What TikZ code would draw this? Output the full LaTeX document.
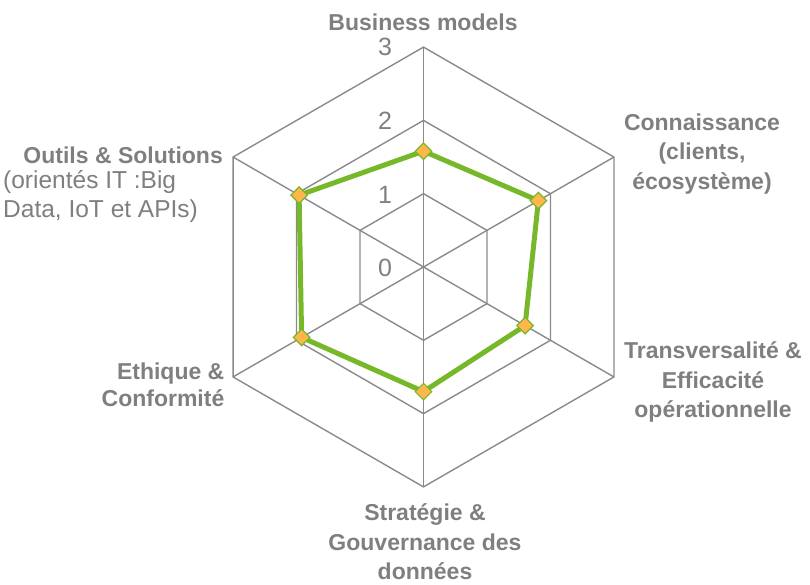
\documentclass[tikz,border=0pt]{standalone}
\usepackage{fontspec}
\setmainfont{Liberation Sans}
\usetikzlibrary{shapes.geometric}
\definecolor{txt}{HTML}{7F7F7F}
\definecolor{gridc}{HTML}{8A8A8A}
\definecolor{serie}{HTML}{77B82A}
\definecolor{mk}{HTML}{FFB64A}
\tikzset{
  gridline/.style={draw=gridc, line width=1.4pt},
  serieline/.style={draw=serie, line width=5pt, line join=round},
  mkstyle/.style={diamond, fill=mk, draw=serie, line width=1.2pt, minimum size=17pt, inner sep=0pt},
  axlbl/.style={text=txt, font=\fontsize{23}{29.5}\selectfont\bfseries, align=center, inner sep=0pt},
  subl/.style={text=txt, font=\fontsize{24.5}{29.5}\selectfont, align=left, inner sep=0pt},
  tick/.style={text=txt, font=\fontsize{25}{28}\selectfont, inner sep=0pt},
}
\begin{document}
\begin{tikzpicture}[x=1pt,y=1pt]
\useasboundingbox (0,-585) rectangle (810,0);
\begin{scope}[shift={(423.5,-267)}]
  \def\u{73.3}
  \coordinate (o) at (0,0);
  \foreach \i/\a in {1/90,2/30,3/-30,4/-90,5/210,6/150}{
    \coordinate (v\i) at (\a:3*\u);
    \coordinate (w\i) at (\a:2*\u);
    \coordinate (x\i) at (\a:1*\u);
  }
  \draw[gridline] (v1)--(v2)--(v3)--(v4)--(v5)--(v6)--cycle;
  \draw[gridline] (w1)--(w2)--(w3)--(w4)--(w5)--(w6)--cycle;
  \draw[gridline] (x1)--(x2)--(x3)--(x4)--(x5)--(x6)--cycle;
  \foreach \i in {1,...,6}{ \draw[gridline] (o) -- (v\i); }
  \coordinate (d1) at (90:1.58*\u);
  \coordinate (d2) at (30:1.81*\u);
  \coordinate (d3) at (-30:1.6*\u);
  \coordinate (d4) at (-90:1.7*\u);
  \coordinate (d5) at (210:1.92*\u);
  \coordinate (d6) at (150:1.96*\u);
  \draw[serieline] (d1)--(d2)--(d3)--(d4)--(d5)--(d6)--cycle;
  \foreach \i in {1,...,6}{ \node[mkstyle] (m\i) at (d\i) {}; }
\end{scope}
\node[tick] (t3) at (385,-47) {3};
\node[tick] (t2) at (385,-121) {2};
\node[tick] (t1) at (385,-195) {1};
\node[tick] (t0) at (385,-268) {0};
\node[axlbl] (l1) at (423,-22) {Business models};
\node[axlbl] (l2) at (702,-154) {Connaissance\\(clients,\\écosystème)};
\node[axlbl] (l3) at (713,-382) {Transversalité \&\\Efficacité\\opérationnelle};
\node[axlbl] (l4) at (425,-542) {Stratégie \&\\Gouvernance des\\données};
\node[axlbl, align=right, font=\fontsize{23}{27}\selectfont\bfseries] (l5) at (163,-385) {Ethique \&\\Conformité};
\node[axlbl, anchor=east] (l6) at (223,-155) {Outils \& Solutions};
\node[subl, anchor=north west] (l6b) at (3,-170) {(orientés IT :Big\\Data, IoT et APIs)};
\end{tikzpicture}
\end{document}
